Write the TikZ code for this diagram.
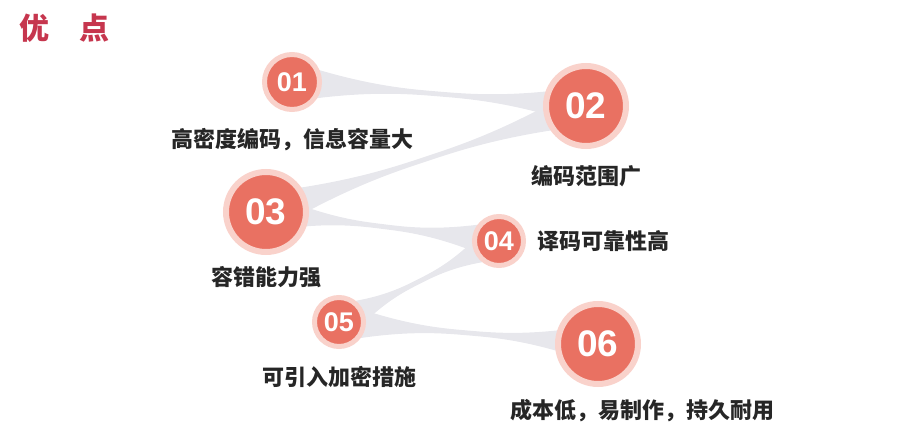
\documentclass[tikz,border=0pt]{standalone}
\usepackage{fontspec}
\usepackage{xcolor}
\usepackage{tikz}
\usetikzlibrary{positioning,calc,backgrounds}
\newfontfamily\cjk{Noto Sans CJK SC}
\newfontfamily\numfont{Liberation Sans}
\definecolor{dotfill}{RGB}{233,113,98}
\definecolor{dothalo}{RGB}{249,210,203}
\definecolor{bandgray}{RGB}{231,231,236}
\definecolor{titlered}{RGB}{198,54,78}
\tikzset{
  dotsmall/.style={circle, fill=dotfill, draw=dothalo, line width=2.5pt, minimum size=24.5pt, inner sep=0pt, text=white, font=\numfont\bfseries\fontsize{13.5}{14}\selectfont},
  dotbig/.style={circle, fill=dotfill, draw=dothalo, line width=3pt, minimum size=40pt, inner sep=0pt, text=white, font=\numfont\bfseries\fontsize{18.5}{20}\selectfont},
  itemlabel/.style={inner sep=0pt, text=black!85, font=\cjk\bfseries\fontsize{11}{13}\selectfont},
  titletext/.style={inner sep=0pt, text=titlered, font=\cjk\bfseries\fontsize{15}{17}\selectfont},
  bandfill/.style={fill=bandgray}
}
% grey band between two dots, wide at the ends, thin in the middle
\newcommand{\linkband}[2]{%
  \fill[bandfill]
    ($(#1)!10pt!90:(#2)$)
    .. controls ($(#1)!0.25!(#2)!1pt!90:(#2)$) and ($(#1)!0.4!(#2)!1.2pt!90:(#2)$) .. ($(#1)!0.5!(#2)!1.2pt!90:(#2)$)
    .. controls ($(#1)!0.6!(#2)!1.2pt!90:(#2)$) and ($(#1)!0.75!(#2)!1pt!90:(#2)$) .. ($(#2)!10pt!-90:(#1)$)
    -- ($(#2)!10pt!90:(#1)$)
    .. controls ($(#1)!0.75!(#2)!1pt!-90:(#2)$) and ($(#1)!0.6!(#2)!1.2pt!-90:(#2)$) .. ($(#1)!0.5!(#2)!1.2pt!-90:(#2)$)
    .. controls ($(#1)!0.4!(#2)!1.2pt!-90:(#2)$) and ($(#1)!0.25!(#2)!1pt!-90:(#2)$) .. ($(#1)!10pt!-90:(#2)$)
    -- cycle;}

\begin{document}
\begin{tikzpicture}[x=0.5pt, y=-0.5pt]
  \useasboundingbox (0,0) rectangle (906,438);
  \node[titletext, anchor=west] (title) at (19,28) {优\hspace{1em}点};

  \node[dotsmall, minimum size=27.5pt] (n01) at (292,82) {01};
  \node[dotbig] (n02) at (586,106) {02};
  \node[dotbig] (n03) at (266,212) {03};
  \node[dotsmall] (n04) at (499,241) {04};
  \node[dotsmall] (n05) at (339,322) {05};
  \node[dotbig] (n06) at (598,344) {06};

  \node[itemlabel, below=8pt of n01] (l01) {高密度编码，信息容量大};
  \node[itemlabel, below=8pt of n02] (l02) {编码范围广};
  \node[itemlabel, below=5.5pt of n03] (l03) {容错能力强};
  \node[itemlabel, right=5.5pt of n04] (l04) {译码可靠性高};
  \node[itemlabel, below=8.5pt of n05] (l05) {可引入加密措施};
  \node[itemlabel, below=6pt of n06, xshift=22pt] (l06) {成本低，易制作，持久耐用};

  \begin{scope}[on background layer]
    \linkband{n01}{n02}
    \linkband{n02}{n03}
    \linkband{n03}{n04}
    \linkband{n04}{n05}
    \linkband{n05}{n06}
  \end{scope}
\end{tikzpicture}
\end{document}
